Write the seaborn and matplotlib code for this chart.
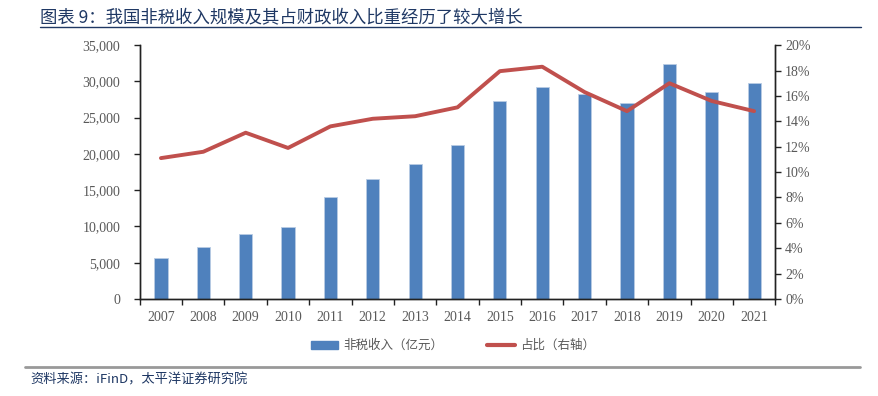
import numpy as np
import pandas as pd
import seaborn as sns
import matplotlib.pyplot as plt
from matplotlib.lines import Line2D
from matplotlib.patches import Patch

# 数据
years = ["2007", "2008", "2009", "2010", "2011", "2012", "2013", "2014",
         "2015", "2016", "2017", "2018", "2019", "2020", "2021"]
non_tax = [5700, 7100, 9000, 9900, 14100, 16600, 18600, 21200,
           27300, 29200, 28200, 27000, 32400, 28500, 29800]
share = [11.1, 11.6, 13.1, 11.9, 13.6, 14.2, 14.4, 15.1,
         17.95, 18.3, 16.3, 14.8, 17.0, 15.6, 14.8]

df = pd.DataFrame({"year": years, "non_tax": non_tax, "share": share})

sns.set_style("white")
plt.rcParams["font.family"] = ["Liberation Serif", "Noto Sans CJK SC", "DejaVu Sans"]

bar_color = "#4F81BD"
line_color = "#C0504D"
tick_color = "#595959"

fig = plt.figure(figsize=(8.79, 3.96), dpi=100)
ax = fig.add_axes([0.159, 0.245, 0.723, 0.641])

sns.barplot(data=df, x="year", y="non_tax", color=bar_color, width=0.31,
            saturation=1, ax=ax, edgecolor="#B8CCE4", linewidth=0.6)
ax.set_ylim(0, 35000)
ax.set_yticks(np.arange(0, 35001, 5000))
ax.set_yticklabels([f"{v:,}" for v in range(0, 35001, 5000)])
ax.set_xlim(-0.5, 14.5)
ax.set_xlabel("")
ax.set_ylabel("")

ax2 = ax.twinx()
sns.lineplot(x=np.arange(len(years)), y=df["share"], color=line_color,
             linewidth=2.8, ax=ax2)
ax2.set_ylim(0, 20)
ax2.set_yticks(np.arange(0, 21, 2))
ax2.set_yticklabels([f"{v}%" for v in range(0, 21, 2)])
ax2.set_ylabel("")
ax2.set_xlim(-0.5, 14.5)

for a in (ax, ax2):
    for s in a.spines.values():
        s.set_color("#222222")
        s.set_linewidth(1.0)
    a.spines["top"].set_visible(False)

ax.tick_params(axis="y", left=True, length=4, width=1, color="#222222",
               labelcolor=tick_color, labelsize=10, pad=10)
ax2.tick_params(axis="y", right=True, length=4, width=1, color="#222222",
                labelcolor=tick_color, labelsize=10, pad=3)
ax.tick_params(axis="x", which="major", length=0, labelcolor=tick_color,
               labelsize=10, pad=9)
ax.set_xticks(np.arange(-0.5, 15, 1), minor=True)
ax.tick_params(axis="x", which="minor", bottom=True, length=4, width=1,
               color="#222222")

# 图例
handles = [Patch(facecolor=bar_color, edgecolor=bar_color),
           Line2D([0], [0], color=line_color, linewidth=3)]
fig.legend(handles, ["非税收入（亿元）", "占比（右轴）"], loc="center",
           bbox_to_anchor=(0.515, 0.127), ncol=2, frameon=False,
           prop={"family": ["Noto Sans CJK SC"], "size": 9},
           labelcolor=tick_color, handlelength=2.2, handleheight=0.6,
           columnspacing=3.5, handletextpad=0.4)

# 标题与来源
fig.text(0.046, 0.957, "图表 9：我国非税收入规模及其占财政收入比重经历了较大增长",
         fontsize=12.5, color="#1F3864", va="center",
         family=["Noto Sans CJK SC", "DejaVu Sans"])
fig.add_artist(Line2D([0.045, 0.98], [0.932, 0.932], color="#1F3864",
                      linewidth=1.0, transform=fig.transFigure))
fig.add_artist(Line2D([0.028, 0.978], [0.073, 0.073], color="#999999",
                      linewidth=2.0, transform=fig.transFigure))
fig.text(0.034, 0.04, "资料来源：iFinD，太平洋证券研究院", fontsize=9.5,
         color="#1F3864", va="center", style="italic",
         family=["Noto Sans CJK SC", "DejaVu Sans"])

fig.savefig("out.png", dpi=100)
